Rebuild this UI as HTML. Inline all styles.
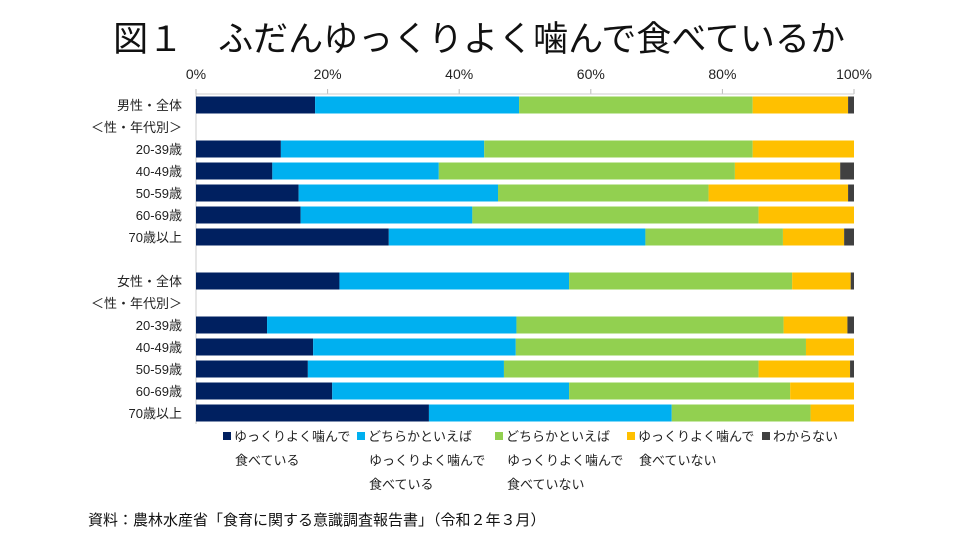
<!DOCTYPE html>
<html><head><meta charset="utf-8"><style>
body{margin:0;background:#fff;width:960px;height:540px;overflow:hidden;font-family:"Liberation Sans","Noto Sans CJK JP",sans-serif;}
svg text{font-family:"Liberation Sans","Noto Sans CJK JP",sans-serif;}
</style></head><body>
<svg width="960" height="540">
<text x="479" y="51" text-anchor="middle" font-size="35" fill="#111">図１　ふだんゆっくりよく噛んで食べているか</text>
<g id="plot"></g>
<g id="legend"></g>
<text x="88" y="525" font-size="15" fill="#111">資料：農林水産省「食育に関する意識調査報告書」（令和２年３月）</text>
</svg>
<script>
const categories=["男性・全体","＜性・年代別＞","20-39歳","40-49歳","50-59歳","60-69歳","70歳以上","","女性・全体","＜性・年代別＞","20-39歳","40-49歳","50-59歳","60-69歳","70歳以上"];
const s1=[18.1,null,12.9,11.6,15.6,15.9,29.3,null,21.8,null,10.8,17.8,17.0,20.7,35.4];
const s2=[31.0,null,30.9,25.3,30.3,26.1,39.0,null,34.9,null,37.9,30.8,29.8,36.0,36.9];
const s3=[35.5,null,40.8,45.0,32.0,43.5,20.9,null,33.9,null,40.6,44.1,38.7,33.6,21.1];
const s4=[14.5,null,15.4,16.0,21.2,14.5,9.3,null,8.9,null,9.7,7.3,13.9,9.7,6.6];
const s5=[0.9,null,0,2.1,0.9,0,1.5,null,0.5,null,1.0,0,0.6,0,0];
const ticks=[0,20,40,60,80,100];
const seriesNames=[["ゆっくりよく噛んで","食べている"],["どちらかといえば","ゆっくりよく噛んで","食べている"],["どちらかといえば","ゆっくりよく噛んで","食べていない"],["ゆっくりよく噛んで","食べていない"],["わからない"]];
const colors=["#002060","#00b0f0","#92d050","#ffc000","#404040"];
const NS="http://www.w3.org/2000/svg";
const x0=196,x1=854,yTop=94,slot=22,bh=17;
const xs=v=>x0+(x1-x0)*v/100;
const yc=i=>yTop+slot/2+slot*i;
const plot=document.getElementById('plot');
function mk(tag,attrs,parent){const e=document.createElementNS(NS,tag);for(const k in attrs)e.setAttribute(k,attrs[k]);parent.appendChild(e);return e;}
ticks.forEach(t=>{
 const tx=mk('text',{x:xs(t),y:79,'text-anchor':'middle','font-size':14,fill:'#222'},plot);
 tx.textContent=t+'%';
 
 
 const tl=mk('line',{x1:xs(t),x2:xs(t),y1:89,y2:94,stroke:'#bbb'},plot);
 
 
});
const ax=mk('line',{x1:x0,x2:x1,y1:94,y2:94,stroke:'#ccc'},plot);


const ay=mk('line',{x1:x0,x2:x0,y1:94,y2:yTop+slot*categories.length,stroke:'#ccc'},plot);


const series=[s1,s2,s3,s4,s5];
categories.forEach((c,i)=>{
 const lb=mk('text',{x:182,y:yc(i)+5,'text-anchor':'end','font-size':13,fill:'#222'},plot);
 lb.textContent=c;
 
 
 let acc=0;
 series.forEach((s,k)=>{
  const v=s[i]; if(v==null||v<=0)return;
  const r=mk('rect',{x:xs(acc),y:yc(i)-bh/2,width:xs(acc+v)-xs(acc),height:bh,fill:colors[k]},plot);
  
  
  acc+=v;
 });
});
const lg=document.getElementById('legend');
const lx=[223,357,495,627,762];
seriesNames.forEach((n,k)=>{
 const sq=mk('rect',{x:lx[k],y:432,width:8,height:8,fill:colors[k]},lg);
 
 
 n.forEach((line,j)=>{
  const t=mk('text',{x:lx[k]+(j==0?11:12),y:441+j*24,'font-size':13,fill:'#222'},lg);
  t.textContent=line;
  
  
 });
});
</script>
</body></html>
